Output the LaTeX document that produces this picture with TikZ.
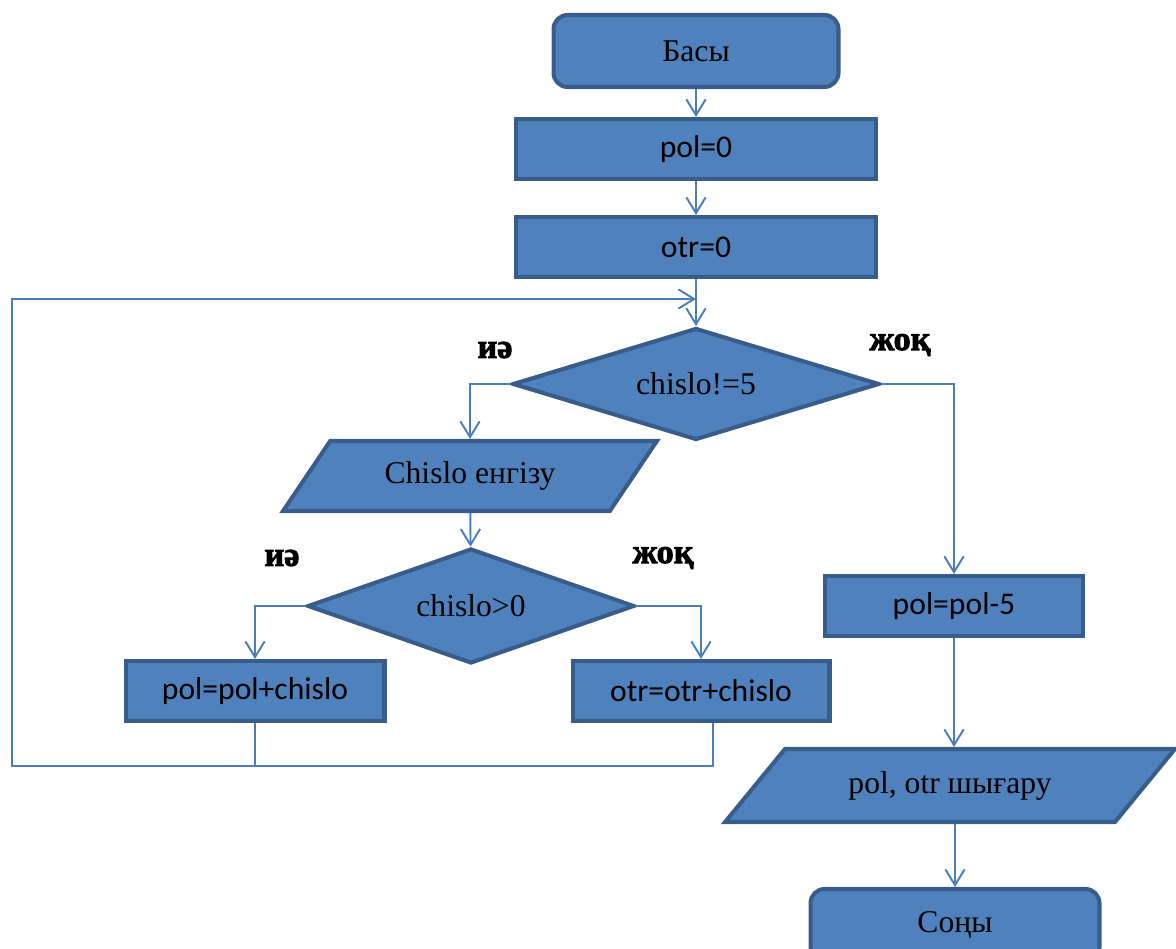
\documentclass[tikz,border=0pt]{standalone}
\usepackage{fontspec}
\setmainfont{Liberation Serif}
\newfontfamily\calfont{Carlito}
\newfontfamily\labelfont{Liberation Serif}[BoldFeatures={FakeBold=2.5}]
\usetikzlibrary{shapes.geometric,arrows.meta}
\definecolor{boxfill}{HTML}{4F81BD}
\definecolor{boxline}{HTML}{385D8A}
\definecolor{wire}{HTML}{4A7EBB}

\begin{document}
\begin{tikzpicture}[x=0.02cm,y=-0.02cm,
  blk/.style={draw=boxline,fill=boxfill,line width=2.3pt,inner sep=0pt},
  term/.style={blk,rounded corners=8pt,minimum width=5.7cm,minimum height=1.44cm,
    font=\fontsize{18}{20}\selectfont},
  proc/.style={blk,minimum height=1.2cm,font=\calfont\fontsize{18}{20}\selectfont},
  cond/.style={blk,diamond,font=\fontsize{18}{20}\selectfont},
  io/.style={blk,trapezium,trapezium stretches=true,trapezium left angle=45,
    trapezium right angle=135,font=\fontsize{18}{20}\selectfont},
  wireline/.style={draw=wire,line width=1.1pt},
  conn/.style={wireline,-{Straight Barb[length=9pt,width=11pt]}},
  ans/.style={font=\labelfont\bfseries\fontsize{19.5}{22}\selectfont}]

\useasboundingbox (0,0) rectangle (1176,949);
\clip (0,0) rectangle (1176,949);

% Main column
\node[term] (start) at (696,51) {Басы};
\node[proc,minimum width=7.2cm] (pol0) at (696,149) {pol=0};
\node[proc,minimum width=7.2cm] (otr0) at (696,247) {otr=0};
\node[cond,aspect=3.3,minimum width=7.34cm,minimum height=2.24cm] (check1) at (696,384) {chislo!=5};

% Loop body
\node[io,minimum width=7.48cm,minimum height=1.4cm] (input) at (470,476) {Chislo енгізу};
\node[cond,aspect=2.85,minimum width=6.54cm,minimum height=2.3cm] (check2) at (471,606) {chislo>0};
\node[proc,minimum width=5.18cm] (addpol) at (255,691) {pol=pol+chislo};
\node[proc,minimum width=5.14cm] (addotr) at (701,691) {otr=otr+chislo};

% Exit branch
\node[proc,minimum width=5.16cm] (subpol) at (954,606) {pol=pol-5};
\node[io,trapezium left angle=38,trapezium right angle=142,
  minimum width=9.0cm,minimum height=1.46cm] (output) at (950,785.5) {pol, otr шығару};
\node[term,minimum width=5.78cm] (stop) at (955,925) {Соңы};

% Branch labels
\node[ans] (yes1) at (495,350) {иә};
\node[ans] (no1) at (900,345) {жоқ};
\node[ans] (yes2) at (282,558) {иә};
\node[ans] (no2) at (663,558) {жоқ};

% Loop corners
\coordinate (lowleft) at (12,766);
\coordinate (upleft) at (12,299);
\coordinate (merge) at (696,299);

% Arrows
\draw[conn] (start) -- (pol0);
\draw[conn] (pol0) -- (otr0);
\draw[conn] (otr0) -- (check1);
\draw[conn] (check1.west) -| (input.north);
\draw[conn] (input) -- (check2);
\draw[conn] (check2.west) -| (addpol.north);
\draw[conn] (check2.east) -| (addotr.north);
\draw[conn] (check1.east) -| (subpol.north);
\draw[conn] (subpol.south) -- (subpol.south |- output.north);
\draw[conn] (stop.north |- output.south) -- (stop.north);

% Back to the test
\draw[conn] (addpol.south) |- (lowleft) -- (upleft) -- (merge);
\draw[wireline] ([xshift=0.24cm]addotr.south) |- (lowleft);

\end{tikzpicture}
\end{document}
